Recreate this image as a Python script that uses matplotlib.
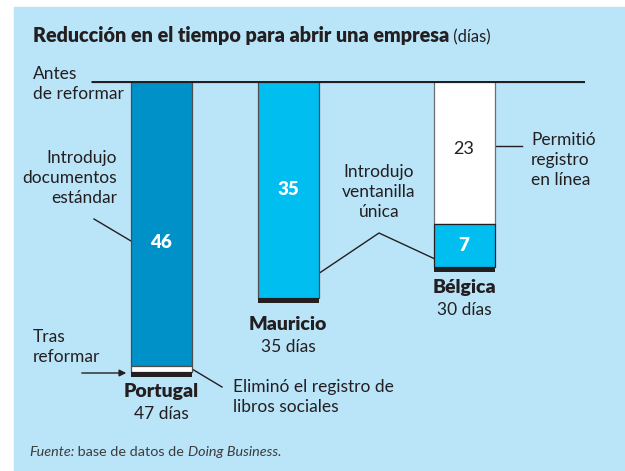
import matplotlib
matplotlib.use("Agg")
import matplotlib.pyplot as plt

# data (days)
countries = ["Portugal", "Mauricio", "Bélgica"]
after_days = [46, 35, 7]       # remaining time after the reform
cut_days = [1, 0, 23]          # days removed by the reform
before_days = [47, 35, 30]
value_labels = ["46", "35", "7"]
cut_labels = ["", "", "23"]

# layout (pixels of a 625x471 canvas)
W, H = 625, 471
xpos = [161, 288, 464]
bar_w = 61
top_px = 81
px_per_day = 6.2

bg = "#BAE4F8"
dark_blue = "#0091C8"
cyan = "#00BEF0"
ink = "#231F20"
fnt = ["Lato", "DejaVu Sans"]
plt.rcParams["font.family"] = fnt

fig = plt.figure(figsize=(W / 100, H / 100), dpi=100)
fig.patch.set_facecolor("white")

# overlay axes in pixel units for the annotations
ov = fig.add_axes([0, 0, 1, 1])
ov.set_xlim(0, W)
ov.set_ylim(H, 0)
ov.axis("off")
ov.add_patch(plt.Rectangle((14, 7), W - 14, H - 7, color=bg, zorder=0))

# bar axes: y in days, 0 at the "before" line
ymax = 50
ax = fig.add_axes([91 / W, 1 - (top_px + ymax * px_per_day) / H,
                   (585 - 91) / W, ymax * px_per_day / H])
ax.set_xlim(91, 585)
ax.set_ylim(ymax, 0)
ax.axis("off")
ax.patch.set_alpha(0)

bar_cols = [dark_blue, cyan, cyan]
for i in range(len(countries)):
    # the cut part sits on top (near the baseline), then the remaining part
    if cut_days[i] > 0 and i == 2:
        ax.bar(xpos[i], cut_days[i], bottom=0, width=bar_w, color="white",
               edgecolor="#6d6e70", linewidth=0.9, zorder=2)
        ax.bar(xpos[i], after_days[i], bottom=cut_days[i], width=bar_w,
               color=bar_cols[i], edgecolor=ink, linewidth=0.9, zorder=2)
    else:
        ax.bar(xpos[i], after_days[i], bottom=0, width=bar_w, color=bar_cols[i],
               edgecolor="#4d4d4d", linewidth=0.9, zorder=2)
        if cut_days[i] > 0:
            ax.bar(xpos[i], cut_days[i], bottom=after_days[i], width=bar_w,
                   color="white", edgecolor="#4d4d4d", linewidth=0.9, zorder=2)
    tot = after_days[i] + cut_days[i]
    ax.bar(xpos[i], 0.85, bottom=tot - 0.05, width=bar_w, color=ink,
           linewidth=0, zorder=3)

ax.hlines(0, 91, 585, color=ink, linewidth=2.3, zorder=4)

# values inside the bars
ax.text(xpos[0], 26, value_labels[0], color="white", fontsize=13.5,
        fontweight="heavy", ha="center", va="center", zorder=5)
ax.text(xpos[1], after_days[1] / 2, value_labels[1], color="white",
        fontsize=13.5, fontweight="heavy", ha="center", va="center", zorder=5)
ax.text(xpos[2], cut_days[2] + after_days[2] / 2, value_labels[2],
        color="white", fontsize=13.5, fontweight="heavy", ha="center",
        va="center", zorder=5)
ax.text(xpos[2], cut_days[2] / 2 - 0.5, cut_labels[2], color=ink,
        fontsize=13, ha="center", va="center", zorder=5)

# country names and totals
name_y = [392, 325, 288]
for i, c in enumerate(countries):
    ov.text(xpos[i], name_y[i], c, fontsize=14, fontweight="heavy", color=ink,
            ha="center", va="center")
    ov.text(xpos[i], name_y[i] + 22, f"{before_days[i]} días", fontsize=12.5,
            color=ink, ha="center", va="center")

fs = 12.5
ls = 1.3
ov.text(33, 84, "Antes\nde reformar", fontsize=fs, color=ink, ha="left",
        va="center", linespacing=ls)
ov.text(117, 178, "Introdujo\ndocumentos\nestándar", fontsize=fs, color=ink,
        ha="right", va="center", linespacing=ls, multialignment="right")
ov.text(379, 192, "Introdujo\nventanilla\núnica", fontsize=fs, color=ink,
        ha="center", va="center", linespacing=ls, multialignment="center")
ov.text(531, 160, "Permitió\nregistro\nen línea", fontsize=fs, color=ink,
        ha="left", va="center", linespacing=ls)
ov.text(33, 347, "Tras\nreformar", fontsize=fs, color=ink, ha="left",
        va="center", linespacing=ls)
ov.text(233, 397, "Eliminó el registro de\nlibros sociales", fontsize=fs,
        color=ink, ha="left", va="center", linespacing=ls)

# leader lines
lk = dict(color=ink, linewidth=1.0)
ov.plot([94, 131], [219, 241], **lk)
ov.plot([318, 379, 435], [274, 233, 259], **lk)
ov.plot([495, 522], [146, 146], **lk)
ov.plot([192, 222], [369, 387], **lk)
ov.annotate("", xy=(129, 373), xytext=(79, 373),
            arrowprops=dict(arrowstyle="-|>", color=ink, lw=1.0,
                            mutation_scale=10))

# title and source made of pieces
renderer = fig.canvas.get_renderer()


def pieces(x, y, parts, **kw):
    for txt, style in parts:
        t = ov.text(x, y, txt, va="baseline", ha="left", **style, **kw)
        bb = t.get_window_extent(renderer)
        x = ov.transData.inverted().transform((bb.x1, bb.y0))[0]


pieces(33, 42, [("Reducción en el tiempo para abrir una empresa",
                 dict(fontweight="heavy", fontsize=14.2)),
                (" (días)", dict(fontsize=12))], color=ink)
pieces(29, 456, [("Fuente:", dict(fontstyle="italic")),
                 (" base de datos de ", dict()),
                 ("Doing Business.", dict(fontstyle="italic"))],
       color="#3c3c3c", fontsize=10.4)

fig.savefig("out.png", dpi=100, facecolor="white")
